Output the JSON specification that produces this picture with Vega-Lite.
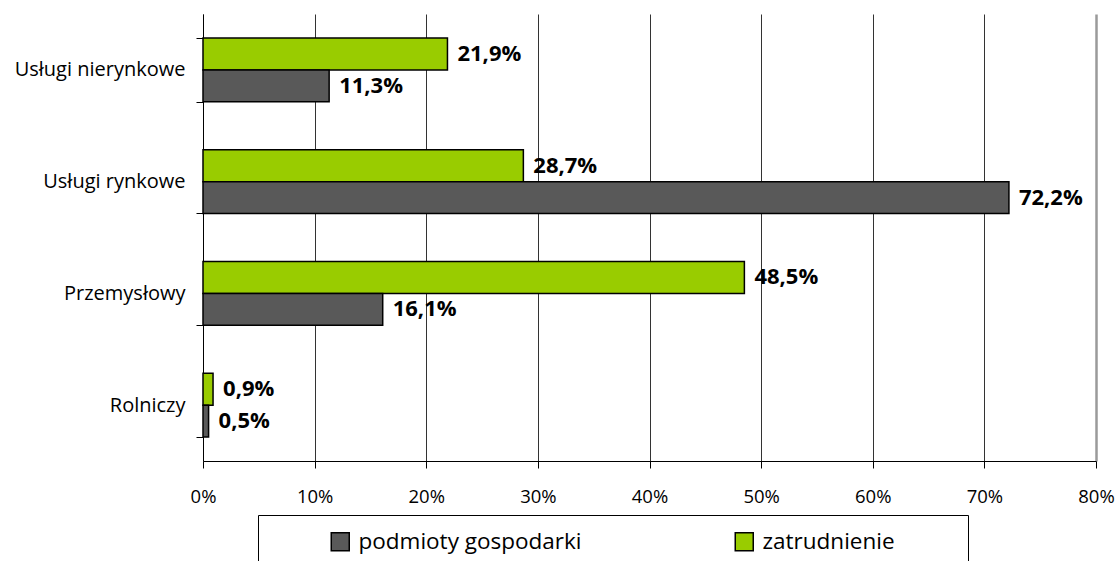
{
  "$schema": "https://vega.github.io/schema/vega-lite/v6.json",
  "width": 893,
  "height": 447,
  "autosize": {"type": "none"},
  "padding": {"left": 203, "top": 14, "right": 20, "bottom": 100},
  "background": "white",
  "config": {
    "locale": {"number": {"decimal": ",", "thousands": " ", "grouping": [3], "currency": ["", " zł"]}},
    "view": {"stroke": null},
    "font": "Open Sans"
  },
  "data": {
    "values": [
      {"sektor": "Usługi nierynkowe", "seria": "zatrudnienie", "wartosc": 0.219},
      {"sektor": "Usługi nierynkowe", "seria": "podmioty gospodarki", "wartosc": 0.113},
      {"sektor": "Usługi rynkowe", "seria": "zatrudnienie", "wartosc": 0.287},
      {"sektor": "Usługi rynkowe", "seria": "podmioty gospodarki", "wartosc": 0.722},
      {"sektor": "Przemysłowy", "seria": "zatrudnienie", "wartosc": 0.485},
      {"sektor": "Przemysłowy", "seria": "podmioty gospodarki", "wartosc": 0.161},
      {"sektor": "Rolniczy", "seria": "zatrudnienie", "wartosc": 0.009},
      {"sektor": "Rolniczy", "seria": "podmioty gospodarki", "wartosc": 0.005}
    ]
  },
  "encoding": {
    "y": {
      "field": "sektor",
      "type": "nominal",
      "sort": ["Usługi nierynkowe", "Usługi rynkowe", "Przemysłowy", "Rolniczy"],
      "scale": {"paddingInner": 0.43, "paddingOuter": 0.215},
      "axis": {
        "title": null,
        "tickBand": "extent",
        "tickSize": 7,
        "tickColor": "black",
        "domainColor": "black",
        "labelPadding": 11,
        "labelFontSize": 20,
        "labelColor": "black",
        "labelLimit": 250,
        "grid": false
      }
    },
    "yOffset": {"field": "seria", "sort": ["zatrudnienie", "podmioty gospodarki"]},
    "x": {
      "field": "wartosc",
      "type": "quantitative",
      "scale": {"domain": [0, 0.8], "nice": false},
      "axis": {
        "title": null,
        "values": [0, 0.1, 0.2, 0.3, 0.4, 0.5, 0.6, 0.7, 0.8],
        "format": ".0%",
        "tickSize": 7,
        "tickColor": "black",
        "domainColor": "black",
        "labelPadding": 19,
        "labelFontSize": 18.5,
        "labelColor": "black",
        "labelFlush": false,
        "labelOverlap": false,
        "grid": true,
        "gridColor": {"condition": {"test": "datum.value >= 0.79", "value": "#9a9a9a"}, "value": "#333333"},
        "gridWidth": {"condition": {"test": "datum.value >= 0.79", "value": 2.5}, "value": 1}
      }
    }
  },
  "layer": [
    {
      "mark": {"type": "bar", "stroke": "black", "strokeWidth": 1.5},
      "encoding": {
        "color": {
          "field": "seria",
          "type": "nominal",
          "scale": {"domain": ["podmioty gospodarki", "zatrudnienie"], "range": ["#595959", "#99CC00"]},
          "legend": {
            "orient": "none",
            "legendX": 55,
            "legendY": 501,
            "direction": "horizontal",
            "title": "\u00a0",
            "titleOrient": "left",
            "titleFontSize": 20,
            "titlePadding": 56,
            "strokeColor": "black",
            "padding": 15,
            "symbolType": "square",
            "symbolSize": 324,
            "symbolStrokeColor": "black",
            "symbolStrokeWidth": 1.5,
            "symbolOpacity": 1,
            "labelFontSize": 22.5,
            "labelColor": "black",
            "labelOffset": 7,
            "labelLimit": 600,
            "columnPadding": 150,
            "labelExpr": "datum.label == 'zatrudnienie' ? datum.label + '\u00a0\u00a0\u00a0\u00a0\u00a0\u00a0\u00a0\u2800' : datum.label"
          }
        }
      }
    },
    {
      "mark": {"type": "text", "align": "left", "baseline": "middle", "dx": 10, "fontWeight": "bold", "fontSize": 22, "color": "black"},
      "encoding": {"text": {"field": "wartosc", "type": "quantitative", "format": ".1%"}}
    }
  ]
}
